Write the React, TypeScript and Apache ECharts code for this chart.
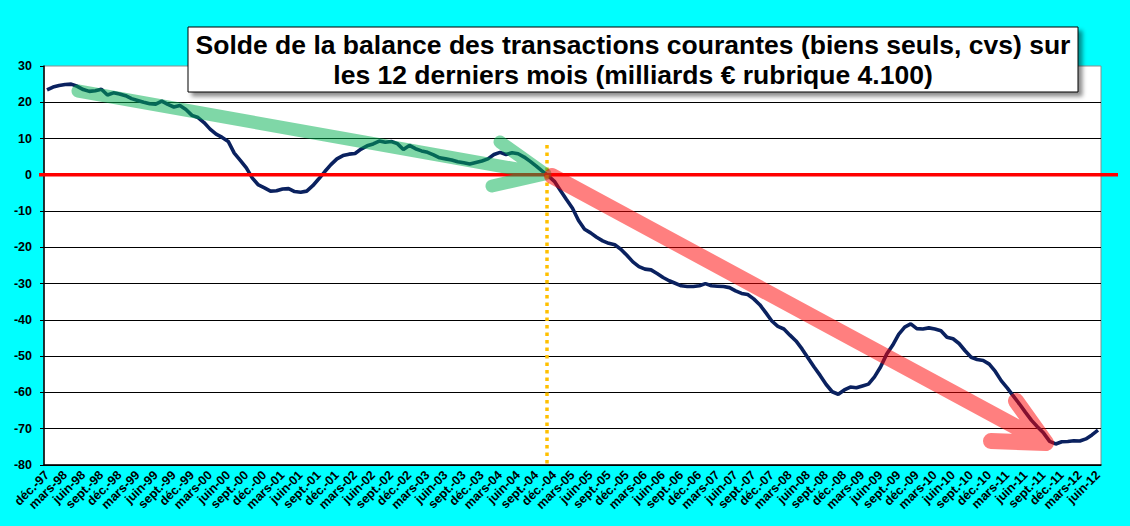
import { useEffect, useRef } from "react";
import * as echarts from "echarts";

// Month abbreviations used for category names
const MONTHS = ["janv.", "févr.", "mars", "avr.", "mai", "juin", "juil.", "août", "sept.", "oct.", "nov.", "déc."];
const START_YEAR = 1997;
const START_MONTH = 11; // déc.

// Solde sur 12 mois (milliards €), monthly from déc.-97 to juin-12
const VALUES = [
  23.4, 24.2, 24.6, 24.9, 25.0, 24.4, 23.5, 23.0, 23.2, 23.6,
  22.0, 22.6, 22.3, 21.8, 21.0, 20.5, 20.0, 19.6, 19.5, 20.3,
  19.4, 18.7, 19.1, 18.0, 16.4, 15.8, 14.4, 12.6, 11.2, 10.3,
  9.2, 6.0, 4.0, 1.9, -0.9, -2.8, -3.6, -4.5, -4.4, -3.9,
  -3.8, -4.6, -4.8, -4.5, -3.0, -1.1, 0.9, 2.8, 4.4, 5.3,
  5.7, 5.9, 7.1, 8.0, 8.5, 9.3, 9.0, 9.2, 8.6, 7.0,
  8.1, 7.2, 6.6, 6.2, 5.5, 4.7, 4.4, 4.1, 3.6, 3.3,
  3.0, 3.4, 3.8, 4.4, 5.6, 6.2, 5.6, 6.1, 5.8, 4.9,
  3.7, 2.4, 1.0, -0.3, -1.8, -4.3, -6.8, -9.2, -12.6, -15.0,
  -16.0, -17.2, -18.2, -18.9, -19.3, -20.5, -22.2, -24.0, -25.3, -26.0,
  -26.2, -27.2, -28.3, -29.2, -29.9, -30.6, -30.8, -30.8, -30.6, -30.0,
  -30.6, -30.7, -30.8, -31.1, -32.0, -32.7, -33.0, -34.2, -35.8, -38.0,
  -40.3, -41.8, -42.5, -44.2, -45.8, -48.0, -50.5, -53.0, -55.3, -57.8,
  -59.8, -60.5, -59.3, -58.5, -58.7, -58.2, -57.7, -55.7, -53.0, -49.5,
  -47.0, -44.0, -42.0, -41.1, -42.4, -42.5, -42.2, -42.5, -43.0, -44.8,
  -45.2, -46.5, -48.5, -50.3, -50.9, -51.2, -52.2, -54.2, -56.8, -58.8,
  -61.0, -63.2, -65.5, -67.7, -69.5, -71.2, -73.5, -74.2, -73.6, -73.5,
  -73.3, -73.4, -72.8, -71.7, -70.4,
];

const CATEGORIES = VALUES.map((_, i) => {
  const k = START_MONTH + i;
  const m = k % 12;
  const y = (START_YEAR + Math.floor(k / 12)) % 100;
  return `${MONTHS[m]}-${String(y).padStart(2, "0")}`;
});

const Y_MIN = -80;
const Y_MAX = 30;
const Y_STEP = 10;

const TITLE_LINES = [
  "Solde de la balance des transactions courantes (biens seuls, cvs) sur",
  "les 12 derniers mois (milliards € rubrique 4.100)",
];

const FONT = "'Liberation Sans', Arial, sans-serif";

export default function App() {
  const ref = useRef<HTMLDivElement>(null);

  useEffect(() => {
    document.body.style.margin = "0";
    if (!ref.current) return;
    const chart = echarts.init(ref.current, undefined, { renderer: "svg" });

    chart.setOption({
      animation: false,
      backgroundColor: "#00FFFF",
      grid: {
        left: 44,
        right: 29,
        top: 66,
        bottom: 61,
        show: true,
        backgroundColor: "#FFFFFF",
        borderColor: "#8c8c8c",
        borderWidth: 1,
        containLabel: false,
      },
      xAxis: {
        type: "category",
        data: CATEGORIES,
        boundaryGap: true,
        axisLine: { onZero: false, lineStyle: { color: "#000", width: 1.5 } },
        axisTick: { interval: 2, length: 4, lineStyle: { color: "#000" } },
        axisLabel: {
          interval: 2,
          rotate: 45,
          fontFamily: FONT,
          fontWeight: "bold",
          fontSize: 12.5,
          color: "#000",
          margin: 8,
        },
        splitLine: { show: false },
      },
      yAxis: {
        type: "value",
        min: Y_MIN,
        max: Y_MAX,
        interval: Y_STEP,
        axisLine: { show: true, lineStyle: { color: "#000", width: 1.5 } },
        axisTick: { show: true, length: 4, lineStyle: { color: "#000" } },
        axisLabel: {
          fontFamily: FONT,
          fontWeight: "bold",
          fontSize: 12.5,
          color: "#000",
          margin: 12,
        },
        splitLine: { show: true, showMaxLine: false, lineStyle: { color: "#000", width: 1 } },
      },
      series: [
        {
          type: "line",
          data: VALUES,
          symbol: "none",
          lineStyle: { color: "#0a215f", width: 3.6 },
          z: 3,
        },
      ],
    });

    const zeroY = chart.convertToPixel({ yAxisIndex: 0 }, 0) as number;

    chart.setOption({
      graphic: [
        {
          type: "line",
          z: 50,
          shape: { x1: 39, y1: zeroY, x2: 1118, y2: zeroY },
          style: { stroke: "#FF0000", lineWidth: 3.5 },
        },
        {
          type: "line",
          z: 51,
          shape: { x1: 547, y1: 145, x2: 547, y2: 465 },
          style: { stroke: "#FFC000", lineWidth: 3.5, lineDash: [3.5, 4] },
        },
        {
          type: "polyline",
          z: 60,
          shape: { points: [[78, 91], [545, 174], [500, 142], [545, 174], [492, 186]] },
          style: {
            stroke: "rgba(0,176,80,0.5)",
            fill: null,
            lineWidth: 13,
            lineCap: "round",
            lineJoin: "round",
          },
        },
        {
          type: "polyline",
          z: 60,
          shape: { points: [[552, 176], [1046, 443], [1016, 401], [1046, 443], [991, 441]] },
          style: {
            stroke: "rgba(255,0,0,0.5)",
            fill: null,
            lineWidth: 16,
            lineCap: "round",
            lineJoin: "round",
          },
        },
        {
          type: "rect",
          z: 70,
          shape: { x: 188, y: 27, width: 890, height: 65 },
          style: {
            fill: "#FFFFFF",
            stroke: "#000",
            lineWidth: 1,
            shadowBlur: 4,
            shadowOffsetX: 4,
            shadowOffsetY: 4,
            shadowColor: "rgba(0,0,0,0.45)",
          },
        },
        {
          type: "text",
          z: 71,
          x: 633,
          y: 45,
          style: {
            text: TITLE_LINES[0],
            fontFamily: FONT,
            fontWeight: "bold",
            fontSize: 26.5,
            fill: "#000",
            align: "center",
            verticalAlign: "middle",
          },
        },
        {
          type: "text",
          z: 71,
          x: 633,
          y: 75,
          style: {
            text: TITLE_LINES[1],
            fontFamily: FONT,
            fontWeight: "bold",
            fontSize: 26.5,
            fill: "#000",
            align: "center",
            verticalAlign: "middle",
          },
        },
      ],
    });

    return () => chart.dispose();
  }, []);

  return <div ref={ref} style={{ width: 1130, height: 526 }} />;
}
